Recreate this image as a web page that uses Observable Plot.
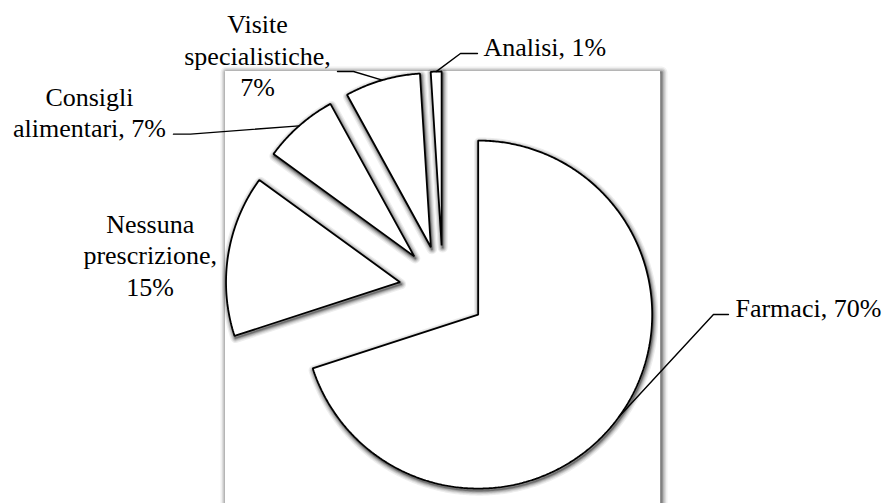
<!DOCTYPE html>
<html>
<head>
<meta charset="utf-8">
<script src="https://cdn.jsdelivr.net/npm/d3@7"></script>
<script src="https://cdn.jsdelivr.net/npm/@observablehq/plot@0.6"></script>
<style>
  html, body { margin: 0; padding: 0; background: #fff; }
</style>
</head>
<body>
<div id="chart"></div>
<script>
// Tipo di prescrizione (quota percentuale)
const categories = ["Farmaci", "Nessuna prescrizione", "Consigli alimentari", "Visite specialistiche", "Analisi"];
const shares = [70, 15, 7, 7, 1];
const labelNames = ["Farmaci,", "Nessuna\nprescrizione,", "Consigli\nalimentari,", "Visite\nspecialistiche,", "Analisi,"];
const labelBreaks = [" ", "\n", " ", "\n", " "];

// Layout: pie radius in pixels, explosion and plot-area size in radius units
const W = 887, H = 503;
const R_PX = 174;
const CENTER = [442.5, 288.5];
const EXPLODE = 0.25;
const FRAME = 1.25;
const FONT_SIZE = 26;
const LINE_HEIGHT = 1.22;

// Label placement, in pixels relative to the outer midpoint of each slice
const labelLayout = [
  {anchor: "start",  dx: 116.5,  dy: -108,  leader: [[94.5, -102.4], [109.5, -102.4]]},
  {anchor: "middle", dx: -78,    dy: 1,     leader: null},
  {anchor: "middle", dx: -209.7, dy: -12.7, leader: [[-108.7, 8.3], [-125.7, 8.3]]},
  {anchor: "middle", dx: -124.8, dy: -23.9, leader: [[-28.8, -8.6], [-44.8, -8.6]]},
  {anchor: "start",  dx: 47.3,   dy: -24.4, leader: [[24.3, -18.1], [41.3, -18.1]]}
];

// Soft shadow built from stacked translucent strokes (width px, opacity)
const shadowLayers = [[12, 0.06], [9, 0.08], [6.5, 0.11], [4, 0.15], [2, 0.22]];

const rows = categories.map((c, i) => ({category: c, share: shares[i], i}));
const arcs = d3.pie().sort(null).value(d => d.share).startAngle(0).endAngle(2 * Math.PI)(rows);

const px = (v) => v / R_PX; // pixel offset -> radius units

const slicePts = [];
const leaderPts = [];
const labelLines = [];
for (const a of arcs) {
  const d = a.data;
  const m = (a.startAngle + a.endAngle) / 2;
  // exploded apex, then the outer arc of the slice
  const ax = EXPLODE * Math.sin(m), ay = EXPLODE * Math.cos(m);
  slicePts.push({category: d.category, x: ax, y: ay});
  const steps = Math.max(2, Math.ceil((a.endAngle - a.startAngle) / (Math.PI / 360)));
  for (let k = 0; k <= steps; ++k) {
    const t = a.startAngle + (a.endAngle - a.startAngle) * k / steps;
    slicePts.push({category: d.category, x: ax + Math.sin(t), y: ay + Math.cos(t)});
  }
  // data label: one row per text line, centred on the label anchor
  const mx = (EXPLODE + 1) * Math.sin(m), my = (EXPLODE + 1) * Math.cos(m);
  const L = labelLayout[d.i];
  const lines = (labelNames[d.i] + labelBreaks[d.i] + d.share + "%").split("\n");
  lines.forEach((line, k) => {
    const off = (k - (lines.length - 1) / 2) * LINE_HEIGHT * FONT_SIZE;
    labelLines.push({anchor: L.anchor, lx: mx + px(L.dx), ly: my - px(L.dy + off), label: line});
  });
  if (L.leader) {
    leaderPts.push({category: d.category, x: mx, y: my});
    for (const [ox, oy] of L.leader) leaderPts.push({category: d.category, x: mx + px(ox), y: my - px(oy)});
  }
}

const plotArea = [{x1: -FRAME, x2: FRAME, y1: -FRAME, y2: FRAME}];
const rectChannels = {x1: "x1", x2: "x2", y1: "y1", y2: "y2"};
const sliceChannels = {x: "x", y: "y", z: "category", curve: "linear-closed"};

const frameShadow = shadowLayers.map(([w, o]) =>
  Plot.rect(plotArea, {...rectChannels, fill: "none", stroke: "#000", strokeWidth: w, strokeOpacity: o,
    strokeLinejoin: "round", dx: 1.5, dy: 1.5}));
const sliceShadow = shadowLayers.map(([w, o]) =>
  Plot.line(slicePts, {...sliceChannels, fill: "none", stroke: "#000", strokeWidth: w * 0.85, strokeOpacity: o * 1.2,
    strokeLinejoin: "round", dx: 1, dy: 2}));

const chart = Plot.plot({
  width: W, height: H,
  margin: 0,
  style: {background: "#fff", fontFamily: "Liberation Serif"},
  x: {axis: null, domain: [-CENTER[0] / R_PX, (W - CENTER[0]) / R_PX], range: [0, W]},
  y: {axis: null, domain: [-(H - CENTER[1]) / R_PX, CENTER[1] / R_PX], range: [H, 0]},
  marks: [
    ...frameShadow,
    Plot.rect(plotArea, {...rectChannels, fill: "#fff"}),
    ...sliceShadow,
    Plot.line(slicePts, {...sliceChannels, fill: "#fff", stroke: "#000", strokeWidth: 1.8, strokeLinejoin: "miter"}),
    Plot.line(leaderPts, {x: "x", y: "y", z: "category", stroke: "#000", strokeWidth: 1.4}),
    Plot.text(labelLines.filter(d => d.anchor === "start"),
      {x: "lx", y: "ly", text: "label", fontFamily: "Liberation Serif", fontSize: FONT_SIZE, textAnchor: "start"}),
    Plot.text(labelLines.filter(d => d.anchor === "middle"),
      {x: "lx", y: "ly", text: "label", fontFamily: "Liberation Serif", fontSize: FONT_SIZE, textAnchor: "middle"})
  ]
});

document.getElementById("chart").appendChild(chart);
</script>
</body>
</html>
